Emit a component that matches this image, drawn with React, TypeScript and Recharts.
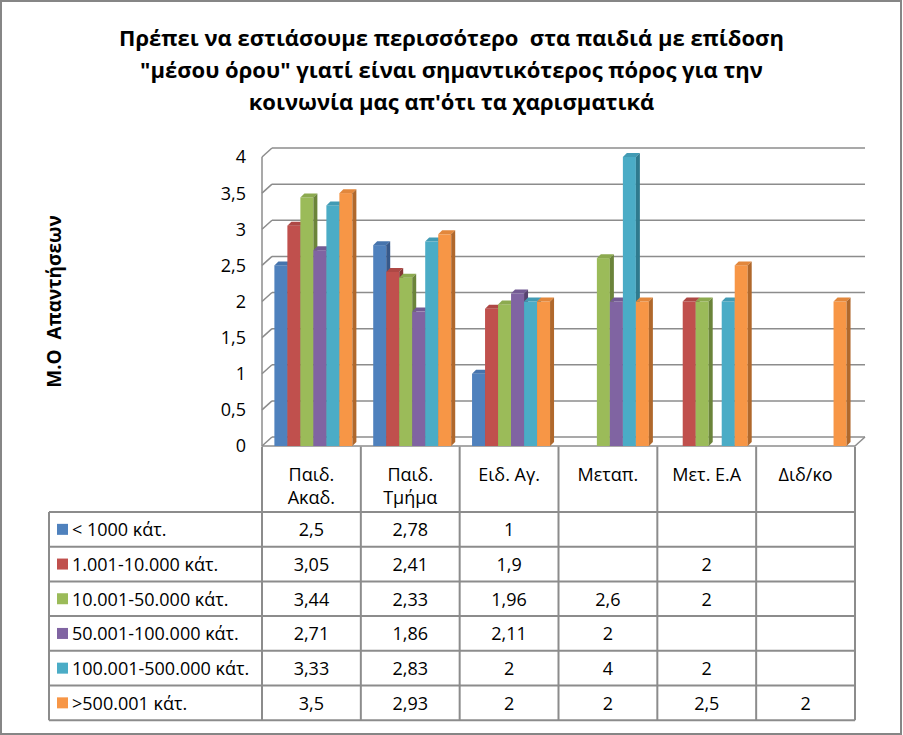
import { BarChart, Bar, XAxis, YAxis, CartesianGrid } from "recharts";

// κατηγορίες και τιμές (Μ.Ο απαντήσεων)
const categories = ["Παιδ.\nΑκαδ.", "Παιδ.\nΤμήμα", "Ειδ. Αγ.", "Μεταπ.", "Μετ. Ε.Α", "Διδ/κο"];
const seriesNames = [
  "< 1000 κάτ.",
  "1.001-10.000 κάτ.",
  "10.001-50.000 κάτ.",
  "50.001-100.000 κάτ.",
  "100.001-500.000 κάτ.",
  ">500.001 κάτ.",
];
const under1000 = [2.5, 2.78, 1, null, null, null];
const from1001 = [3.05, 2.41, 1.9, null, 2, null];
const from10001 = [3.44, 2.33, 1.96, 2.6, 2, null];
const from50001 = [2.71, 1.86, 2.11, 2, null, null];
const from100001 = [3.33, 2.83, 2, 4, 2, null];
const over500001 = [3.5, 2.93, 2, 2, 2.5, 2];
const yTicks = [0, 0.5, 1, 1.5, 2, 2.5, 3, 3.5, 4];

const seriesValues = [under1000, from1001, from10001, from50001, from100001, over500001];
const colors = [
  { front: "#4F81BD", top: "#4674AD", side: "#37598A" },
  { front: "#C0504D", top: "#AE4845", side: "#853634" },
  { front: "#9BBB59", top: "#8CAA4F", side: "#6B843A" },
  { front: "#8064A2", top: "#735A93", side: "#574270" },
  { front: "#4BACC6", top: "#429BB4", side: "#2F7A8E" },
  { front: "#F79646", top: "#E2873C", side: "#B0682C" },
];

const data = categories.map((name, i) => {
  const row: Record<string, any> = { name };
  seriesValues.forEach((vals, s) => {
    row["s" + s] = vals[i];
  });
  return row;
});

const FONT = "'Open Sans', sans-serif";
const DX = 10; // βάθος τοίχου
const DY = 9;
const D = 4; // βάθος μπάρας

const fmt = (v: number | null) => (v == null ? "" : String(v).replace(".", ","));

function Bar3D(props: any) {
  const { x, y, width, height, value, c } = props;
  if (value == null || !height || height <= 0) return null;
  const fx = x + 2.5;
  const r = fx + width;
  const b = y + height;
  return (
    <g>
      <rect x={fx} y={y} width={width} height={height} fill={c.front} />
      <polygon points={`${fx},${y} ${fx + D},${y - D} ${r + D},${y - D} ${r},${y}`} fill={c.top} />
      <polygon points={`${r},${y} ${r + D},${y - D} ${r + D},${b - D} ${r},${b}`} fill={c.side} />
    </g>
  );
}

function WallLine(props: any) {
  const { x1, y1, x2, y, height } = props;
  const isFloor = Math.abs(y1 - (y + height)) < 1;
  return (
    <g>
      <line x1={x1} y1={y1} x2={x1 + DX} y2={y1 - DY} stroke="#8c8c8c" strokeWidth={1.5} />
      <line x1={x1 + DX} y1={y1 - DY} x2={x2 + DX} y2={y1 - DY} stroke="#8c8c8c" strokeWidth={1.5} />
      {isFloor && (
        <>
          <line x1={x1} y1={y1} x2={x2} y2={y1} stroke="#8c8c8c" strokeWidth={1.5} />
          <line x1={x2} y1={y1} x2={x2 + DX} y2={y1 - DY} stroke="#8c8c8c" strokeWidth={1.5} />
        </>
      )}
    </g>
  );
}

function CategoryTick(props: any) {
  const { x, y, payload } = props;
  const lines = String(payload.value).split("\n");
  return (
    <text x={x} y={y} textAnchor="middle" fontFamily={FONT} fontSize={18} fill="#000">
      {lines.map((l, i) => (
        <tspan key={i} x={x} dy={i === 0 ? 27 : 23}>
          {l}
        </tspan>
      ))}
    </text>
  );
}

function AxisTitle(props: any) {
  const { viewBox } = props;
  const cx = 54;
  const cy = viewBox.y + viewBox.height / 2;
  return (
    <text
      x={cx}
      y={cy}
      transform={`rotate(-90 ${cx} ${cy})`}
      textAnchor="middle"
      dominantBaseline="central"
      fontFamily={FONT}
      fontWeight="bold"
      fontSize={19}
      style={{ whiteSpace: "pre" }}
    >
      Μ.Ο  Απαντήσεων
    </text>
  );
}

// θέσεις πίνακα
const PLOT_L = 262;
const PLOT_R = 855;
const LEG_L = 49;
const HEAD_T = 446.5;
const ROW_T = 512;
const ROW_H = 34.7;
const colW = (PLOT_R - PLOT_L) / categories.length;

function DataTable() {
  const grid = "#8c8c8c";
  const bottom = ROW_T + ROW_H * seriesNames.length;
  return (
    <svg width={903} height={735} style={{ position: "absolute", left: 0, top: 0, pointerEvents: "none" }}>
      {Array.from({ length: seriesNames.length + 1 }).map((_, i) => (
        <line key={"h" + i} x1={LEG_L} x2={PLOT_R} y1={ROW_T + i * ROW_H} y2={ROW_T + i * ROW_H} stroke={grid} strokeWidth={2} />
      ))}
      <line x1={LEG_L} x2={LEG_L} y1={ROW_T} y2={bottom} stroke={grid} strokeWidth={2} />
      {Array.from({ length: categories.length + 1 }).map((_, c) => (
        <line key={"v" + c} x1={PLOT_L + c * colW} x2={PLOT_L + c * colW} y1={HEAD_T} y2={bottom} stroke={grid} strokeWidth={2} />
      ))}
      {seriesNames.map((n, s) => {
        const cy = ROW_T + s * ROW_H + ROW_H / 2;
        return (
          <g key={n}>
            <rect x={57} y={cy - 5.5} width={11} height={11} fill={colors[s].front} />
            <text x={72} y={cy} dominantBaseline="central" fontFamily={FONT} fontSize={18} fill="#000">
              {n}
            </text>
            {seriesValues[s].map((v, c) => (
              <text
                key={c}
                x={PLOT_L + c * colW + colW / 2}
                y={cy}
                textAnchor="middle"
                dominantBaseline="central"
                fontFamily={FONT}
                fontSize={18}
                fill="#000"
              >
                {fmt(v)}
              </text>
            ))}
          </g>
        );
      })}
    </svg>
  );
}

export default function App() {
  return (
    <div
      style={{
        position: "fixed",
        left: 0,
        top: 0,
        width: 903,
        height: 735,
        background: "#fff",
        fontFamily: FONT,
      }}
    >
      <div
        style={{
          position: "absolute",
          left: 0,
          top: 0,
          width: 902,
          height: 735,
          boxSizing: "border-box",
          border: "2px solid #868686",
        }}
      />
      <div
        style={{
          position: "absolute",
          left: 0,
          top: 21,
          width: 903,
          textAlign: "center",
          fontWeight: "bold",
          fontSize: 22,
          lineHeight: "32px",
          whiteSpace: "pre",
          color: "#000",
        }}
      >
        {"Πρέπει να εστιάσουμε περισσότερο  στα παιδιά με επίδοση\n\"μέσου όρου\" γιατί είναι σημαντικότερος πόρος για την\nκοινωνία μας απ'ότι τα χαρισματικά"}
      </div>
      <div style={{ position: "absolute", left: 0, top: 0 }}>
        <BarChart
          width={903}
          height={735}
          data={data}
          margin={{ top: 157, right: 903 - PLOT_R, bottom: 735 - 446 - 66, left: 0 }}
          barGap={0}
          barCategoryGap="10%"
        >
          <CartesianGrid vertical={false} horizontal={(p: any) => <WallLine {...p} />} />
          <XAxis dataKey="name" height={66} axisLine={false} tickLine={false} tick={<CategoryTick />} interval={0} />
          <YAxis
            width={PLOT_L}
            domain={[0, 4]}
            ticks={yTicks}
            interval={0}
            axisLine={{ stroke: "#8c8c8c", strokeWidth: 1.5 }}
            tickLine={false}
            tickMargin={10}
            tickFormatter={(v: number) => fmt(v)}
            tick={{ fill: "#000", fontSize: 18, fontFamily: FONT }}
            label={<AxisTitle />}
          />
          {seriesNames.map((n, s) => (
            <Bar
              key={n}
              dataKey={"s" + s}
              name={n}
              isAnimationActive={false}
              shape={(p: any) => <Bar3D {...p} c={colors[s]} />}
            />
          ))}
        </BarChart>
      </div>
      <DataTable />
    </div>
  );
}
